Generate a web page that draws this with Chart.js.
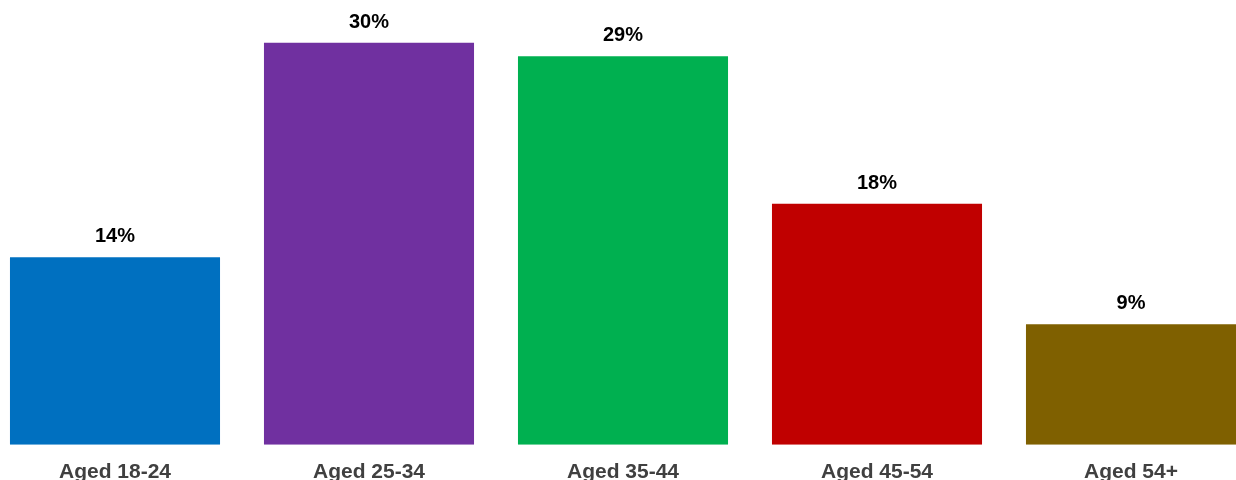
<!DOCTYPE html>
<html>
<head>
<meta charset="utf-8">
<title>Age groups</title>
<script src="https://cdn.jsdelivr.net/npm/chart.js@4.4.1/dist/chart.umd.min.js"></script>
<style>
    html, body { margin: 0; padding: 0; background: #fff; overflow: hidden; }
    #wrap { position: relative; width: 1236px; height: 480px; overflow: hidden; }
    #ageChart { position: absolute; left: -12px; top: 0; }
</style>
</head>
<body>
<div id="wrap">
    <canvas id="ageChart" width="1270" height="500"></canvas>
</div>
<script>
const ageGroups = ['Aged 18-24', 'Aged 25-34', 'Aged 35-44', 'Aged 45-54', 'Aged 54+'];
const sharePct = [14, 30, 29, 18, 9];
const barColors = ['#0070C0', '#7030A0', '#00B050', '#C00000', '#7F6000'];

// percentage above every bar
const valueLabels = {
    id: 'valueLabels',
    afterDatasetsDraw(chart) {
        const ctx = chart.ctx;
        const meta = chart.getDatasetMeta(0);
        ctx.save();
        ctx.font = 'bold 20px "Liberation Sans", Arial, sans-serif';
        ctx.fillStyle = '#000';
        ctx.textAlign = 'center';
        ctx.textBaseline = 'alphabetic';
        meta.data.forEach((bar, i) => {
            ctx.fillText(sharePct[i] + '%', bar.x, bar.y - 15);
        });
        ctx.restore();
    }
};

const ctx = document.getElementById('ageChart').getContext('2d');
const chart = new Chart(ctx, {
    type: 'bar',
    data: {
        labels: ageGroups,
        datasets: [{
            data: sharePct,
            backgroundColor: barColors,
            borderWidth: 0,
            categoryPercentage: 1,
            barPercentage: 0.827
        }]
    },
    options: {
        responsive: false,
        animation: false,
        layout: { padding: 0 },
        plugins: {
            legend: { display: false },
            tooltip: { enabled: false }
        },
        scales: {
            x: {
                grid: { display: false, drawTicks: false },
                border: { display: false },
                ticks: {
                    padding: 15,
                    color: '#404040',
                    font: { family: '"Liberation Sans", Arial, sans-serif', size: 21, weight: 'bold' }
                }
            },
            y: {
                display: false,
                min: 0,
                max: 33.2
            }
        }
    },
    plugins: [valueLabels]
});
</script>
</body>
</html>
